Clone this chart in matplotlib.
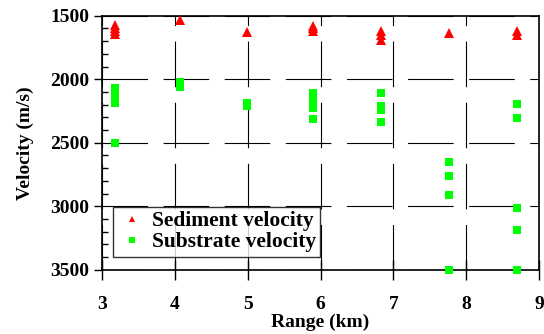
import matplotlib
matplotlib.use("Agg")
import matplotlib.pyplot as plt
from matplotlib.ticker import MultipleLocator

plt.rcParams['font.family'] = ['Liberation Serif', 'DejaVu Serif']
plt.rcParams['font.weight'] = 'bold'

# Sediment velocity (red triangles)
sed_range = [3.18, 3.18, 3.18, 3.18, 4.07, 4.99, 5.9, 5.9, 5.9, 6.83, 6.83, 6.83, 7.77, 8.7, 8.7]
sed_vel = [1575, 1600, 1620, 1645, 1530, 1625, 1580, 1600, 1620, 1620, 1650, 1690, 1640, 1620, 1650]

# Substrate velocity (green squares)
sub_range = [3.18, 3.18, 3.18, 3.18, 3.18, 4.07, 4.07, 4.07, 4.99, 4.99,
             5.9, 5.9, 5.9, 5.9, 6.83, 6.83, 6.83, 6.83,
             7.77, 7.77, 7.77, 7.77, 8.7, 8.7, 8.7, 8.7, 8.7]
sub_vel = [2070, 2110, 2150, 2190, 2500, 2020, 2040, 2060, 2190, 2210,
           2110, 2170, 2230, 2310, 2110, 2210, 2240, 2340,
           2650, 2760, 2910, 3500, 2195, 2305, 3015, 3190, 3500]

xticks = [3, 4, 5, 6, 7, 8, 9]
yticks = [1500, 2000, 2500, 3000, 3500]

fig = plt.figure(figsize=(5.44, 3.34), dpi=100)
ax = fig.add_axes([0.1875, 0.192, 0.8035, 0.761])

ax.plot(sed_range, sed_vel, linestyle='none', marker='^', color='#ff0000',
        markersize=7, markeredgewidth=0, label='Sediment velocity', zorder=3, clip_on=False)
ax.plot(sub_range, sub_vel, linestyle='none', marker='s', color='#00ff00',
        markersize=6.2, markeredgewidth=0, label='Substrate velocity', zorder=3, clip_on=False)

ax.set_xlim(3, 9)
ax.set_ylim(3500, 1500)
ax.set_xticks(xticks)
ax.set_yticks(yticks)
ax.yaxis.set_minor_locator(MultipleLocator(100))

ax.grid(True, which='major', color='black', linewidth=0.8, linestyle=(0, (41, 14)))

ax.tick_params(axis='x', which='major', direction='inout', length=14, width=1, labelsize=14, pad=12)
ax.tick_params(axis='y', which='major', direction='out', length=6, width=1, labelsize=14, pad=3)
ax.tick_params(axis='y', which='minor', direction='in', length=4, width=1)
for lab in ax.get_xticklabels() + ax.get_yticklabels():
    lab.set_fontweight('bold')

for s in ax.spines.values():
    s.set_linewidth(1.2)

ax.set_xlabel('Range (km)', fontsize=14, fontweight='bold', labelpad=0)
ax.set_ylabel('Velocity (m/s)', fontsize=14, fontweight='bold', labelpad=12)

leg = ax.legend(loc='lower left', bbox_to_anchor=(0.0, 0.01),
                prop={'family': 'Liberation Serif', 'weight': 'bold', 'size': 15.5},
                markerscale=0.6, frameon=True, fancybox=False, borderpad=0.2,
                handletextpad=0.2, labelspacing=0.05, handlelength=1.4,
                borderaxespad=0.5)
leg.get_frame().set_edgecolor('black')
leg.get_frame().set_linewidth(1)

fig.savefig('out.png', dpi=100)
